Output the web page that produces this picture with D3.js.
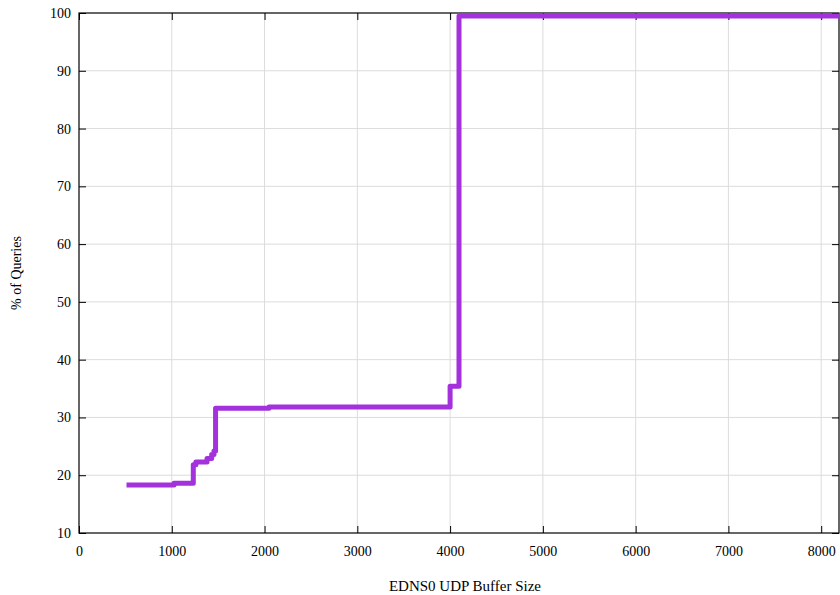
<!DOCTYPE html>
<html>
<head>
<meta charset="utf-8">
<script src="https://cdn.jsdelivr.net/npm/d3@7"></script>
<style>
  html, body { margin: 0; padding: 0; background: #fff; }
  svg { display: block; }
  text { font-family: "Liberation Serif", "DejaVu Serif", serif; fill: #000; }
</style>
</head>
<body>
<svg id="chart" width="840" height="595"></svg>
<script>
// Data (EDNS0 UDP buffer size CDF, stepped)
const bufferSizes = [512, 1024, 1232, 1260, 1380, 1430, 1455, 1472, 2048, 4000, 4096, 8192];
const pctQueries  = [18.3, 18.6, 21.8, 22.3, 22.9, 23.6, 24.2, 31.6, 31.8, 35.4, 99.5, 99.5];
const xTicks = [0, 1000, 2000, 3000, 4000, 5000, 6000, 7000, 8000];
const yTicks = [10, 20, 30, 40, 50, 60, 70, 80, 90, 100];
const xLabel = "EDNS0 UDP Buffer Size";
const yLabel = "% of Queries";

const svg = d3.select("#chart");
const m = { left: 79, right: 839, top: 13, bottom: 533 };
const x = d3.scaleLinear().domain([0, 8192]).range([m.left, m.right]);
const y = d3.scaleLinear().domain([10, 100]).range([m.bottom, m.top]);

// grid
const grid = svg.append("g");
grid.selectAll("line.gx").data(xTicks.filter(d => d > 0)).join("line")
  .attr("x1", d => x(d)).attr("x2", d => x(d))
  .attr("y1", m.top).attr("y2", m.bottom)
  .attr("stroke", "#dcdcdc").attr("stroke-width", 1);
grid.selectAll("line.gy").data(yTicks.filter(d => d > 10 && d < 100)).join("line")
  .attr("x1", m.left).attr("x2", m.right)
  .attr("y1", d => y(d)).attr("y2", d => y(d))
  .attr("stroke", "#dcdcdc").attr("stroke-width", 1);

// axes
const tickLen = 7;
const xAxisB = d3.axisBottom(x).tickValues(xTicks).tickSize(-tickLen).tickPadding(13).tickFormat(d3.format("d"));
const xAxisT = d3.axisTop(x).tickValues(xTicks).tickSize(-tickLen).tickFormat("");
const yAxisL = d3.axisLeft(y).tickValues(yTicks).tickSize(-tickLen).tickPadding(8).tickFormat(d3.format("d"));
const yAxisR = d3.axisRight(y).tickValues(yTicks).tickSize(-tickLen).tickFormat("");

function style(g) {
  g.select(".domain").remove();
  g.selectAll(".tick line").attr("stroke", "#000").attr("stroke-width", 1);
  g.selectAll(".tick text").style("font-family", '"Liberation Serif", serif').style("font-size", "14px").attr("fill", "#000");
}
svg.append("g").attr("transform", `translate(0,${m.bottom})`).call(xAxisB).call(style);
svg.append("g").attr("transform", `translate(0,${m.top})`).call(xAxisT).call(style);
svg.append("g").attr("transform", `translate(${m.left},0)`).call(yAxisL).call(style);
svg.append("g").attr("transform", `translate(${m.right},0)`).call(yAxisR).call(style);

// border
svg.append("rect").attr("x", m.left).attr("y", m.top)
  .attr("width", m.right - m.left).attr("height", m.bottom - m.top)
  .attr("fill", "none").attr("stroke", "#000").attr("stroke-width", 1.2);

// line
const data = bufferSizes.map((d, i) => [d, pctQueries[i]]);
const line = d3.line().x(d => x(d[0])).y(d => y(d[1])).curve(d3.curveStepAfter);
svg.append("path").datum(data).attr("d", line)
  .attr("fill", "none").attr("stroke", "#a332dc").attr("stroke-width", 5)
  .attr("stroke-linejoin", "round");

// labels
svg.append("text").attr("x", 465).attr("y", 591).attr("text-anchor", "middle")
  .style("font-size", "15px").text(xLabel);
svg.append("text").attr("transform", "translate(21,273) rotate(-90)").attr("text-anchor", "middle")
  .style("font-size", "14px").text(yLabel);
</script>
</body>
</html>
